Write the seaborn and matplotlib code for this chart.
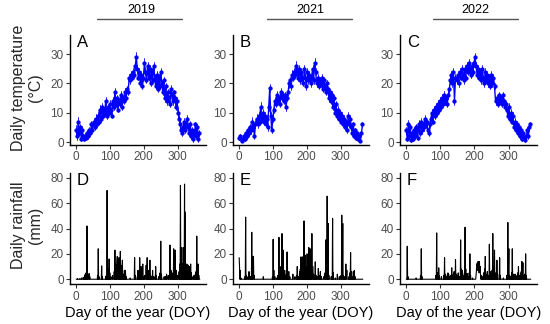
import numpy as np
import pandas as pd
import matplotlib
matplotlib.use("Agg")
import matplotlib.pyplot as plt
import seaborn as sns
from matplotlib.lines import Line2D

# ---------------- data ----------------
years = ["2019", "2021", "2022"]
panel_temp = ["A", "B", "C"]
panel_rain = ["D", "E", "F"]

# day-of-year sampling of the temperature series (every third day)
temp_doy = list(range(1, 365, 3))

temp_2019 = [4, 2, 7, 3, 5, 1, 4, 2, 1, 2,
             1.5, 3, 2, 4, 3, 6, 4, 7, 5, 8,
             6, 9, 7, 11, 8, 12, 9, 11, 10, 14,
             9, 12, 10, 13, 11, 9, 14, 12, 17, 13,
             15, 11, 14, 13, 16, 12, 15, 14, 17, 15,
             18, 17, 22, 21, 23, 22, 24, 23, 26, 29,
             25, 22, 24, 20, 23, 19, 22, 27, 24, 21,
             26, 22, 25, 20, 24, 21, 26, 22, 19, 23,
             18, 22, 19, 24, 20, 17, 21, 15, 19, 14,
             17, 15, 13, 18, 16, 14, 17, 15, 12, 14,
             10, 8, 6, 4, 3, 5, 7, 4, 6, 8,
             5, 3, 6, 2, 4, 1, 3, 6, 2, 5,
             1, 3]
temp_2021 = [1.5, 2, 1, 0.5, 1, 2, 1, 3, 2, 4,
             3, 5, 4, 7, 5, 2, 6, 8, 6, 9,
             7, 12, 8, 10, 7, 9, 6, 8, 5, 12,
             18.5, 9, 4, 8, 11, 14, 13, 16, 14, 15,
             13, 17, 15, 16, 14, 16, 12, 15, 17, 20,
             21, 19, 23, 22, 24, 23, 26, 24, 22, 25,
             21, 24, 22, 20, 25, 22, 19, 24, 21, 23,
             20, 22, 25, 21, 27, 24, 20, 22, 19, 21,
             20, 22, 18, 21, 19, 17, 20, 18, 15, 17,
             14, 16, 12, 15, 10, 13, 9, 11, 8, 10,
             7, 9, 6, 8, 5, 7, 4, 9, 6, 8,
             5, 3, 6, 2, 4, 1.5, 3, 1, 2, 0.5,
             3, 6]
temp_2022 = [4, 1, 6, 2, 5, 0.7, 3, 1, 4, 2,
             5, 1.5, 6, 3, 7, 4, 6, 5, 8, 6,
             7, 4, 3, 6, 8, 10, 7, 11, 9, 12,
             10, 13, 11, 14, 12, 15, 13, 16, 14, 15,
             13, 16, 18, 21, 23, 20, 24, 14, 22, 21,
             23, 20, 24, 22, 25, 23, 21, 25, 22, 26,
             24, 27, 25, 23, 26, 24, 27, 29, 26, 23,
             25, 22, 24, 21, 25, 22, 20, 24, 21, 23,
             20, 22, 19, 23, 20, 22, 19, 14, 15, 13,
             16, 14, 15, 13, 16, 14, 12, 13, 11, 9,
             12, 8, 10, 7, 9, 5, 7, 4, 6, 3,
             5, 2, 4, 1, 3, 1.5, 0.7, 2, 4, 2,
             5, 6]

temp_err_2019 = [1.8, 1.2, 1.5, 1.0, 1.3, 0.8, 1.4, 0.9, 0.7, 1.0,
                 0.8, 1.2, 0.9, 1.1, 0.8, 1.3, 0.9, 1.1, 0.8, 1.4,
                 1.0, 1.2, 0.9, 1.5, 1.1, 1.3, 0.9, 1.0, 1.2, 1.4,
                 1.0, 1.1, 0.9, 1.2, 1.0, 0.8, 1.3, 1.1, 1.5, 1.0,
                 1.2, 0.9, 1.1, 1.0, 1.3, 0.9, 1.2, 1.0, 1.4, 1.1,
                 1.2, 1.0, 1.3, 1.1, 1.2, 0.9, 1.4, 1.0, 1.3, 1.6,
                 1.2, 1.0, 1.1, 0.9, 1.3, 1.0, 1.2, 1.5, 1.1, 0.9,
                 1.4, 1.0, 1.2, 0.9, 1.3, 1.0, 1.4, 1.1, 0.9, 1.2,
                 1.0, 1.3, 0.9, 1.2, 1.0, 0.8, 1.1, 1.3, 1.0, 1.4,
                 1.1, 1.2, 0.9, 1.3, 1.0, 1.2, 0.9, 1.1, 1.0, 1.3,
                 1.5, 1.2, 1.4, 1.1, 0.9, 1.2, 1.3, 1.0, 1.1, 1.2,
                 0.9, 1.0, 1.3, 0.8, 1.1, 0.9, 1.2, 1.0, 0.8, 1.1,
                 0.9, 1.0]
temp_err_2021 = [0.8, 0.9, 0.7, 0.6, 0.8, 1.0, 0.7, 1.1, 0.9, 1.2,
                 1.0, 1.3, 1.1, 1.4, 1.2, 0.9, 1.3, 1.5, 1.1, 1.4,
                 1.2, 1.6, 1.3, 1.4, 1.1, 1.2, 1.0, 1.3, 1.1, 1.5,
                 1.4, 1.3, 1.0, 1.2, 1.1, 1.3, 1.2, 1.4, 1.1, 1.2,
                 1.0, 1.3, 1.1, 1.2, 1.0, 1.2, 1.3, 1.1, 1.2, 1.4,
                 1.3, 1.1, 1.4, 1.2, 1.3, 1.1, 1.5, 1.2, 1.1, 1.3,
                 1.2, 1.4, 1.1, 1.0, 1.3, 1.2, 1.1, 1.4, 1.2, 1.3,
                 1.1, 1.2, 1.4, 1.1, 1.5, 1.3, 1.1, 1.2, 1.0, 1.2,
                 1.1, 1.3, 1.0, 1.2, 1.1, 1.0, 1.2, 1.1, 1.3, 1.2,
                 1.1, 1.3, 1.0, 1.2, 0.9, 1.1, 1.0, 1.2, 0.9, 1.1,
                 1.0, 1.2, 0.9, 1.1, 0.8, 1.0, 0.9, 1.3, 1.0, 1.1,
                 0.9, 0.8, 1.0, 0.7, 0.9, 0.8, 0.9, 0.7, 0.8, 0.6,
                 0.9, 1.0]
temp_err_2022 = [1.3, 0.8, 1.5, 1.0, 1.2, 0.7, 1.1, 0.8, 1.2, 0.9,
                 1.3, 0.8, 1.4, 1.0, 1.2, 1.1, 1.0, 1.2, 1.3, 1.1,
                 1.0, 0.9, 0.8, 1.1, 1.2, 1.3, 1.0, 1.4, 1.2, 1.3,
                 1.1, 1.4, 1.2, 1.3, 1.1, 1.4, 1.2, 1.5, 1.3, 1.2,
                 1.1, 1.3, 1.4, 1.2, 1.3, 1.1, 1.4, 1.5, 1.2, 1.1,
                 1.3, 1.1, 1.2, 1.0, 1.3, 1.2, 1.1, 1.3, 1.0, 1.2,
                 1.1, 1.3, 1.2, 1.0, 1.2, 1.1, 1.3, 1.4, 1.2, 1.0,
                 1.2, 1.0, 1.3, 1.1, 1.2, 1.0, 1.1, 1.3, 1.0, 1.2,
                 1.1, 1.2, 1.0, 1.3, 1.1, 1.2, 1.0, 1.4, 1.1, 0.9,
                 1.2, 1.0, 1.1, 0.9, 1.2, 1.0, 1.1, 0.9, 1.0, 1.2,
                 1.3, 1.0, 1.2, 0.9, 1.1, 1.0, 1.2, 0.9, 1.1, 0.8,
                 1.0, 0.8, 1.1, 0.7, 0.9, 0.8, 0.7, 0.9, 1.0, 0.8,
                 1.1, 1.0]

# rain events (DOY, mm); all other days of the year had no rain
rain_2019 = [(5, 0.5), (12, 0.5), (17, 1), (22, 1.5), (26, 3), (28, 4), (30, 5), (33, 42),
             (35, 3), (39, 4.5), (41, 2), (64, 3), (66, 24), (68, 2), (76, 10.5), (78, 2),
             (88, 2), (90, 3), (92, 70), (94, 4), (96, 8), (98, 16), (100, 5), (103, 2),
             (108, 3), (113, 6), (115, 23), (117, 12), (119, 10), (121, 14), (122, 18),
             (124, 6), (125, 10), (127, 17), (129, 8), (131, 22), (133, 11), (135, 5),
             (137, 15), (139, 4), (141, 3), (143, 7), (146, 7), (148, 2), (160, 1),
             (173, 17), (175, 3), (181, 2), (183, 7), (186, 4), (188, 17), (190, 5),
             (192, 10), (194, 3), (197, 12), (199, 2), (203, 3), (207, 11), (210, 17),
             (212, 4), (215, 7), (218, 15), (220, 3), (223, 2), (226, 7), (230, 2),
             (235, 10), (237, 3), (244, 2), (248, 5), (250, 30), (252, 4), (260, 2),
             (264, 2), (267, 4), (272, 3), (277, 27), (280, 7), (283, 3), (286, 5),
             (288, 24), (290, 6), (292, 23), (294, 4), (296, 7), (300, 3), (304, 6),
             (306, 12), (308, 74), (310, 25), (312, 25), (314, 12), (316, 10), (318, 25),
             (320, 75), (322, 53), (324, 8), (327, 12), (329, 6), (331, 11), (334, 10),
             (336, 4), (338, 12), (340, 5), (345, 2), (348, 3), (352, 4), (354, 6),
             (356, 34), (358, 5), (360, 12), (362, 3)]
rain_2021 = [(1, 17), (2, 10), (4, 7), (6, 1), (18, 2), (20, 49), (22, 3), (27, 2), (30, 6),
             (34, 2), (38, 37), (40, 18), (42, 18), (43, 18), (45, 3), (72, 2), (99, 2),
             (101, 31.5), (103, 7), (106, 2), (112, 1), (115, 3), (118, 33), (120, 5),
             (122, 2), (124, 10), (127, 36), (129, 8), (130, 23), (132, 6), (135, 7),
             (137, 3), (140, 4), (142, 21.5), (144, 3), (147, 6), (150, 2), (159, 4),
             (165, 2), (170, 3), (172, 10), (176, 2), (179, 6), (181, 8), (183, 17.6),
             (185, 10), (187, 17.6), (189, 12), (192, 46), (194, 8), (195, 19), (197, 10),
             (199, 6), (201, 20), (203, 12), (206, 25), (208, 8), (210, 24), (212, 5),
             (215, 36), (217, 10), (218, 10), (220, 4), (222, 3), (225, 13.7), (227, 3),
             (230, 2), (234, 8.5), (236, 3), (240, 6), (243, 2), (250, 2), (254, 5),
             (256, 31), (258, 12), (260, 65.5), (262, 8), (263, 44), (265, 3), (272, 2),
             (276, 48), (278, 5), (284, 1), (290, 4), (296, 2), (301, 3), (303, 50.5),
             (305, 10), (306, 44), (308, 3), (312, 2), (315, 12), (317, 3), (318, 7),
             (324, 2), (327, 5), (329, 21), (331, 6), (334, 2), (337, 6), (340, 7), (342, 2)]
rain_2022 = [(4, 26), (6, 2), (30, 1), (43, 3), (45, 24), (47, 2), (88, 3), (90, 36.5),
             (92, 5), (96, 9), (98, 3), (104, 2), (111, 3), (113, 17), (115, 4), (118, 2),
             (121, 3), (123, 5), (125, 4), (128, 2), (131, 3), (134, 9), (136, 3), (139, 4),
             (141, 6), (143, 3), (145, 15.5), (147, 4), (150, 3), (153, 5), (156, 2),
             (160, 31), (162, 8), (165, 7), (168, 3), (171, 5), (173, 41), (175, 8),
             (177, 3), (179, 4.5), (182, 2), (185, 5), (187, 20), (189, 3), (195, 1),
             (205, 3), (206, 6), (207, 12), (208, 9), (209, 13), (210, 7), (211, 14),
             (212, 8), (213, 11), (214, 5), (215, 14), (216, 6), (217, 10), (218, 4),
             (220, 3), (223, 2), (227, 5), (230, 8), (232, 18), (234, 4), (238, 6),
             (241, 3), (244, 27.6), (246, 6), (249, 4), (252, 7), (254, 36), (256, 10),
             (259, 23), (261, 5), (264, 3), (266, 15), (268, 4), (274, 17), (276, 3),
             (285, 1), (295, 3), (298, 44.7), (300, 10), (301, 24), (303, 3), (307, 2),
             (309, 5), (311, 24), (313, 4), (316, 3), (319, 4), (322, 2), (325, 3),
             (327, 5), (329, 10), (331, 3), (335, 4), (337, 6), (339, 14), (341, 5),
             (342, 13), (344, 3), (347, 4), (350, 20), (352, 3)]

temps = {"2019": temp_2019, "2021": temp_2021, "2022": temp_2022}
errs = {"2019": temp_err_2019, "2021": temp_err_2021, "2022": temp_err_2022}
rains = {"2019": rain_2019, "2021": rain_2021, "2022": rain_2022}

x_ticks = [0, 100, 200, 300]
temp_ticks = [0, 10, 20, 30]
rain_ticks = [0, 20, 40, 60, 80]


def temp_frame(year):
    t = np.array(temps[year], dtype=float)
    e = np.array(errs[year], dtype=float)
    d = np.array(temp_doy)
    return pd.DataFrame({
        "doy": np.concatenate([d, d, d]),
        "temp": np.concatenate([t - e, t, t + e]),
    })


def rain_frame(year):
    s = pd.Series(0.0, index=pd.RangeIndex(1, 366, name="doy"))
    days, mm = zip(*rains[year])
    s.loc[list(days)] = mm
    return s.rename("rain").reset_index()


# ---------------- figure ----------------
sns.set_style("ticks")
plt.rcParams["font.family"] = ["Liberation Sans", "DejaVu Sans"]

W, H = 550, 324
fig = plt.figure(figsize=(W / 100, H / 100), dpi=100)
fig.patch.set_facecolor("white")


def add_ax(l, r, t, b):
    return fig.add_axes([l / W, 1 - b / H, (r - l) / W, (b - t) / H])


lefts = [70, 233, 400]
rights = [206, 369, 537]
year_text_x = [141, 310, 475]
year_line = [(97, 182), (267, 352), (433, 518)]


def style_ax(ax):
    sns.despine(ax=ax)
    for sp in ("left", "bottom"):
        ax.spines[sp].set_linewidth(1.0)
        ax.spines[sp].set_color("black")
    ax.tick_params(axis="both", length=3, width=0.8, color="#333333",
                   labelcolor="#4D4D4D", labelsize=8.5, pad=1.5)
    ax.set_xlabel("")
    ax.set_ylabel("")
    ax.set_facecolor("white")
    ax.grid(False)


for i, yr in enumerate(years):
    l, r = lefts[i], rights[i]

    # temperature panel
    ax_t = add_ax(l, r, 35, 145)
    sns.lineplot(data=temp_frame(yr), x="doy", y="temp", estimator="mean",
                 errorbar=("pi", 100), err_style="bars", marker="o",
                 markersize=3.1, markeredgewidth=0, color="#0000FF",
                 linewidth=1.0, err_kws={"linewidth": 0.6}, ax=ax_t)
    ax_t.set_xlim(-17.2, 383.2)
    ax_t.set_ylim(-1.0, 36.5)
    ax_t.set_xticks(x_ticks)
    ax_t.set_yticks(temp_ticks)
    style_ax(ax_t)
    ax_t.text(0.05, 1.0, panel_temp[i], transform=ax_t.transAxes,
              ha="left", va="top", fontsize=12, color="black")

    # rainfall panel
    ax_b = add_ax(l, r, 172.7, 284.3)
    sns.lineplot(data=rain_frame(yr), x="doy", y="rain", color="black",
                 linewidth=0.8, ax=ax_b)
    ax_b.set_xlim(-17.2, 383.2)
    ax_b.set_ylim(-4, 84)
    ax_b.set_xticks(x_ticks)
    ax_b.set_yticks(rain_ticks)
    style_ax(ax_b)
    ax_b.text(0.05, 1.0, panel_rain[i], transform=ax_b.transAxes,
              ha="left", va="top", fontsize=12, color="black")

    # x label under each rainfall panel
    fig.text((l + r) / 2 / W, 1 - 313 / H, "Day of the year (DOY)",
             ha="center", va="center", fontsize=10.5, color="black")

    # year header with line underneath
    fig.text(year_text_x[i] / W, 1 - 10 / H, yr, ha="center", va="center",
             fontsize=9, color="black")
    x0, x1 = year_line[i]
    fig.add_artist(Line2D([x0 / W, x1 / W], [1 - 19 / H, 1 - 19 / H],
                          color="#555555", linewidth=1.0))

fig.text(27 / W, 1 - 88 / H, "Daily temperature\n(°C)", rotation=90,
         ha="center", va="center", multialignment="center", fontsize=11.5,
         linespacing=1.15)
fig.text(27 / W, 1 - 225 / H, "Daily rainfall\n(mm)", rotation=90,
         ha="center", va="center", multialignment="center", fontsize=11.5,
         linespacing=1.15)

fig.savefig("out.png", dpi=100, facecolor="white")
